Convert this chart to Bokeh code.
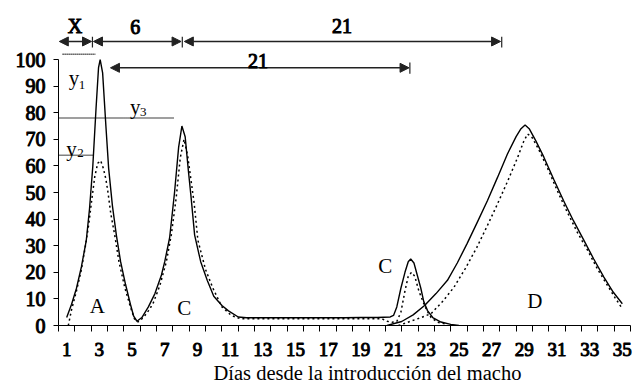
from bokeh.plotting import figure
from bokeh.models import Range1d, FixedTicker, Arrow, NormalHead, Label, Title
from bokeh.embed import file_html
from bokeh.resources import INLINE

# ---------------- data ----------------
x_tick_labels = list(range(1, 36, 2))
x_minor_ticks = [k + 0.5 for k in range(0, 36)]
y_ticks = list(range(0, 101, 10))

# solid curve: peaks A, C, flat phase, small C
solid_x = [1.0, 1.3, 1.6, 1.9, 2.2, 2.4, 2.6, 2.8, 2.95, 3.05, 3.2, 3.4, 3.57, 3.8,
           4.04, 4.3, 4.6, 4.9, 5.1, 5.3, 5.6, 6.0, 6.4, 6.8, 7.0, 7.3, 7.6, 7.85,
           8.05, 8.25, 8.45, 8.6, 8.83, 9.2, 9.6, 10.0, 10.5, 10.9, 11.5, 12, 13, 14,
           15, 16, 17, 18, 19, 20, 20.8, 21.0, 21.2, 21.45, 21.7, 21.9, 22.05, 22.25,
           22.45, 22.67, 22.85, 23.08, 23.4, 23.9, 24.5, 25.0]
solid_y = [3, 8, 14, 22, 32, 44, 60, 82, 97, 100, 95, 75, 59, 45,
           34, 24, 15.5, 8, 3.5, 1.6, 3, 7, 12, 19, 24, 33, 50, 67,
           75, 71, 58, 49, 34, 24, 17, 11, 7.5, 5.5, 3.2, 2.9, 2.9, 2.9,
           2.9, 2.9, 2.9, 2.9, 3.0, 3.0, 3.2, 3.8, 7, 14, 20, 24, 25, 23.5,
           19, 14, 9, 5.6, 3, 1.3, 0.4, 0]

# dotted curve: peaks A, C, flat phase, small C
dotted_x = [1.1, 1.3, 1.6, 1.9, 2.15, 2.35, 2.55, 2.72, 2.9, 3.08, 3.25, 3.4, 3.53,
            3.7, 3.94, 4.2, 4.55, 4.9, 5.15, 5.37, 5.7, 6.0, 6.28, 6.7, 7.1, 7.4,
            7.7, 7.95, 8.18, 8.4, 8.6, 8.8, 9.03, 9.5, 9.95, 10.5, 11.07, 11.6, 12,
            13, 14, 15, 16, 17, 18, 19, 20.3, 20.6, 20.9, 21.2, 21.45, 21.7, 21.9,
            22.1, 22.3, 22.55, 22.8, 23.05, 23.3, 23.7, 24.3]
dotted_y = [0, 6, 13, 21, 30, 38, 48, 56, 61, 62, 59, 55, 50,
            42, 34, 24, 14.4, 7, 2.5, 1.3, 3, 5.5, 8.2, 15, 24, 34,
            48, 63, 70, 64, 55, 46, 32, 21, 14, 7, 3.8, 2.6, 2.5,
            2.5, 2.5, 2.5, 2.5, 2.5, 2.5, 2.5, 2.5, 1.6, 1.2, 1.5, 5, 13, 18.5,
            20, 18.5, 13, 9, 5.5, 3, 1.2, 0.4]

# D peak, solid
d_solid_x = [20.6, 21.5, 22.2, 22.9, 23.6, 24.3, 24.9, 25.5, 26.1, 26.75, 27.35,
             27.97, 28.5, 28.8, 29.05, 29.3, 29.7, 30.2, 30.8, 31.4, 32.0, 32.65,
             33.25, 33.87, 34.45, 35.0]
d_solid_y = [0, 1.5, 4, 7.5, 12, 17, 23.5, 30.8, 38.5, 47, 55.5,
             64.5, 71, 74, 75.4, 74, 69.5, 63.3, 55, 47, 39.5, 32,
             25, 18.2, 12.5, 8.2]

# D peak, dotted
d_dotted_x = [21.3, 22.0, 22.7, 23.3, 24.0, 24.7, 25.4, 26.1, 26.7, 27.36, 28.0,
              28.6, 28.95, 29.2, 29.45, 29.9, 30.4, 31.0, 31.6, 32.25, 32.9, 33.5,
              34.1, 34.55, 35.0]
d_dotted_y = [0, 1.5, 3, 4.5, 9, 14.4, 21.5, 29.4, 37, 45.7, 54.5,
              63.3, 69, 72, 71, 66, 59.5, 51, 43, 35, 28, 21,
              15, 10.5, 6.3]

ref_levels = {"y1": 102, "y2": 64, "y3": 78}
interval_labels = ["X", "6", "21", "21"]
peak_labels = ["A", "C", "C", "D"]
x_title = "Días desde la introducción del macho"

# ---------------- figure ----------------
SERIF = "Liberation Serif"

p = figure(frame_width=572, frame_height=317,
           x_range=Range1d(0.5, 35.5), y_range=Range1d(0, 119.2),
           output_backend="svg", toolbar_location=None,
           min_border_left=58, min_border_right=8, min_border_top=8, min_border_bottom=0,
           background_fill_color="white", border_fill_color="white")
p.outline_line_color = None
p.grid.visible = False

# axes
xa = p.xaxis[0]
xa.ticker = FixedTicker(ticks=x_tick_labels, minor_ticks=x_minor_ticks)
xa.major_tick_out = 0
xa.major_tick_in = 0
xa.minor_tick_out = 6
xa.minor_tick_in = 0
xa.axis_line_color = "black"
xa.minor_tick_line_color = "black"
xa.major_label_text_font = SERIF
xa.major_label_text_font_size = "19px"
xa.major_label_text_color = "black"
xa.major_label_text_outline_color = "black"
xa.major_label_standoff = 11

ya = p.yaxis[0]
ya.ticker = FixedTicker(ticks=y_ticks)
ya.bounds = (0, 100)
ya.major_tick_out = 5
ya.major_tick_in = 0
ya.minor_tick_out = 0
ya.minor_tick_in = 0
ya.axis_line_color = "black"
ya.major_tick_line_color = "black"
ya.major_label_text_font = SERIF
ya.major_label_text_font_size = "20px"
ya.major_label_text_color = "black"
ya.major_label_text_outline_color = "black"
ya.major_label_standoff = 8

# x axis title, slightly right of centre as in the original
p.add_layout(Title(text=x_title, align="left", offset=155, standoff=3,
                   text_font=SERIF, text_font_size="20.5px",
                   text_font_style="normal", text_color="black"), "below")

# curves
p.line(solid_x, solid_y, line_color="black", line_width=1.4)
p.line(dotted_x, dotted_y, line_color="black", line_width=1.5, line_dash="2 3")
p.line(d_solid_x, d_solid_y, line_color="black", line_width=1.4)
p.line(d_dotted_x, d_dotted_y, line_color="black", line_width=1.5, line_dash="2 3")

# reference dotted levels
for (x0, x1, lev) in [(0.75, 2.75, ref_levels["y1"]),
                      (0.5, 2.68, ref_levels["y2"]),
                      (0.5, 7.57, ref_levels["y3"])]:
    p.add_layout(Arrow(x_start=x0, y_start=lev, x_end=x1, y_end=lev, end=None,
                       line_color="black", line_width=1.5, line_dash="1 1"))

# interval arrows
def head():
    return NormalHead(size=9, fill_color="#222222", line_color="#222222")

for (x0, x1, yy) in [(0.55, 2.52, 106.8), (2.64, 8.0, 106.8), (8.2, 27.55, 106.8),
                     (3.68, 21.95, 96.9)]:
    p.add_layout(Arrow(x_start=x0, y_start=yy, x_end=x1, y_end=yy,
                       start=head(), end=head(),
                       line_color="#222222", line_width=1.6))

for (xx, y0, y1) in [(2.577, 104.5, 108.6), (8.075, 104.5, 108.6),
                     (27.62, 104.5, 108.6), (22.0, 94.7, 98.9)]:
    p.add_layout(Arrow(x_start=xx, y_start=y0, x_end=xx, y_end=y1, end=None,
                       line_color="#222222", line_width=1.2))

def lab(x, y, t, size="20px", outline=None):
    p.add_layout(Label(x=x, y=y, text=t, text_font=SERIF, text_font_size=size,
                       text_color="black", text_outline_color=outline,
                       text_align="center", text_baseline="alphabetic"))

# interval labels (heavy)
lab(1.51, 112.8, interval_labels[0], outline="black")
lab(5.2, 112.4, interval_labels[1], outline="black")
lab(17.85, 112.8, interval_labels[2], outline="black")
lab(12.7, 99.6, interval_labels[3], outline="black")

# peak labels
lab(2.88, 7.5, peak_labels[0], size="21px")
lab(8.2, 6.6, peak_labels[1], size="21px")
lab(20.5, 22.4, peak_labels[2], size="21px")
lab(29.64, 9.4, peak_labels[3], size="21px")

# y labels with subscripts
lab(1.45, 93.2, "y", size="21px")
lab(1.94, 90.4, "1", size="13px")
lab(1.29, 66.5, "y", size="21px")
lab(1.84, 64.8, "2", size="13px")
lab(5.2, 82.3, "y", size="21px")
lab(5.69, 80.2, "3", size="13px")

open("out.html", "w").write(file_html(p, INLINE))
